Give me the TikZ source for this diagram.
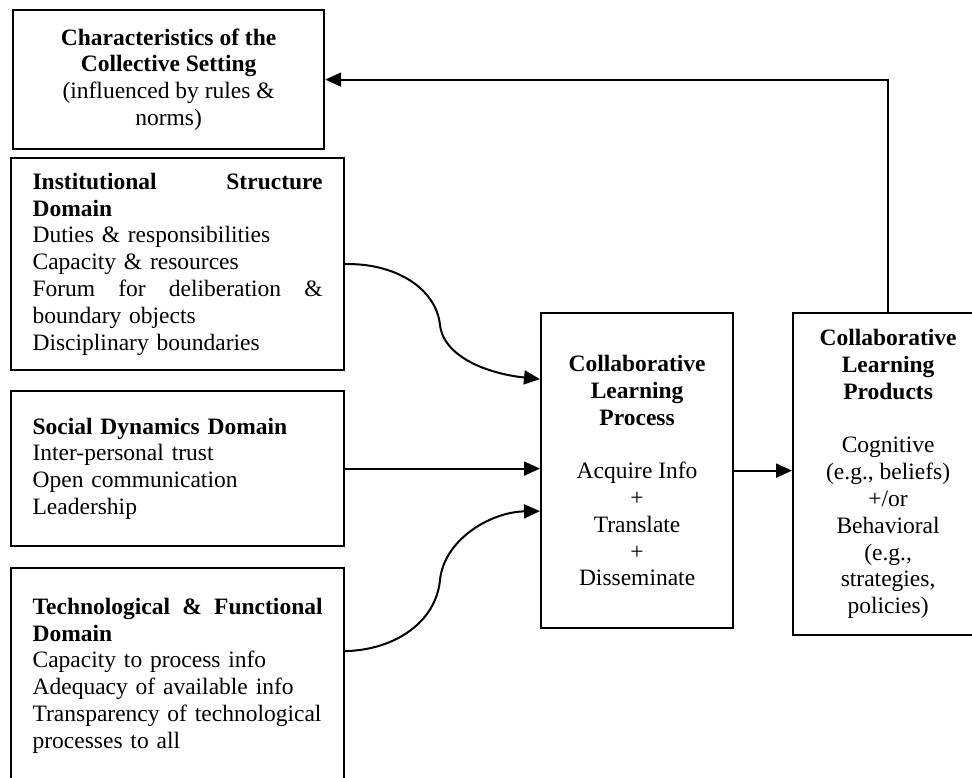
\documentclass[tikz,border=0pt]{standalone}
\usepackage{fontspec}
\setmainfont{Liberation Serif}
\usetikzlibrary{arrows.meta}
\begin{document}
\begin{tikzpicture}[x=1pt,y=-1pt,
  box/.style={draw, line width=2.2pt, inner sep=0pt, anchor=north west,
    font=\fontsize{23.5}{26.8}\selectfont},
  leftbox/.style={box, text width=290pt, inner xsep=21.5pt, align=left},
  conn/.style={line width=2pt, -{Triangle[length=16pt,width=14pt]}}]
\useasboundingbox (0,0) rectangle (972,778);
\clip (0,0) rectangle (972,778);
\fill[white] (0,0) rectangle (972,778);

\node[box, minimum width=311pt, minimum height=139pt, align=center] (c) at (12,9)
  {\textbf{Characteristics of the}\\ \textbf{Collective Setting}\\ (influenced by rules \&\\ norms)};

\node[leftbox, minimum height=212pt] (ins) at (10,157)
  {\textbf{Institutional\hfill Structure}\\
   \textbf{Domain}\\
   Duties \& responsibilities\\
   Capacity \& resources\\
   Forum\hfill for\hfill deliberation\hfill \&\\
   boundary objects\\
   Disciplinary boundaries};

\node[leftbox, minimum height=155pt] (soc) at (10,390)
  {\textbf{Social Dynamics Domain}\\
   Inter-personal trust\\
   Open communication\\
   Leadership};

\node[leftbox, minimum height=215pt] (tech) at (10,567)
  {\textbf{Technological\hfill \&\hfill Functional}\\
   \textbf{Domain}\\
   Capacity to process info\\
   Adequacy of available info\\
   Transparency of technological\\
   processes to all};

\node[box, minimum width=192pt, minimum height=315pt, align=center] (p) at (540,312)
  {\textbf{Collaborative}\\ \textbf{Learning}\\ \textbf{Process}\\[26.8pt]
   Acquire Info\\ +\\ Translate\\ +\\ Disseminate};

\node[box, minimum width=190pt, minimum height=322pt, align=center] (prod) at (792,312)
  {\textbf{Collaborative}\\ \textbf{Learning}\\ \textbf{Products}\\[26.8pt]
   Cognitive\\ (e.g., beliefs)\\ +/or\\ Behavioral\\ (e.g.,\\ strategies,\\ policies)};

\draw[conn] (ins.east) .. controls (395,263) and (436,288) .. (440,325)
  .. controls (444,358) and (490,374) .. ([yshift=91.5pt]p.west);
\draw[conn] (soc.east) -- (soc.east -| p.west);
\draw[conn] ([yshift=24.5pt]tech.east) .. controls (395,650) and (436,622) .. (440,580)
  .. controls (444,540) and (490,512) .. ([yshift=-40.5pt]p.west);
\draw[conn] (p.east) -- (p.east -| prod.west);
\draw[conn] (prod.north) |- (c.east);
\end{tikzpicture}
\end{document}
